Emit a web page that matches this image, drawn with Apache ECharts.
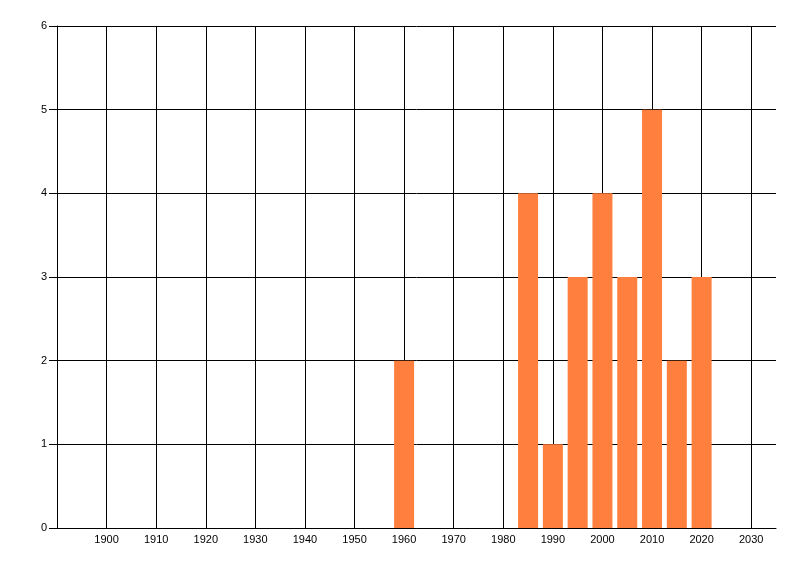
<!DOCTYPE html>
<html>
<head>
<meta charset="utf-8">
<script src="https://cdn.jsdelivr.net/npm/echarts@6/dist/echarts.min.js"></script>
<style>
  html, body { margin: 0; padding: 0; background: #fff; }
  #chart { width: 800px; height: 576px; }
</style>
</head>
<body>
<div id="chart"></div>
<script>
// data
var years = [1960, 1985, 1990, 1995, 2000, 2005, 2010, 2015, 2020]
var counts = [2, 4, 1, 3, 4, 3, 5, 2, 3]

var xMin = 1890
var xMax = 2035
var yMax = 6

var barData = []
for (var i = 0; i < years.length; i++) {
  barData.push([years[i], counts[i]])
}

var myChart = echarts.init(document.getElementById('chart'))

var labelFont = { fontFamily: 'Liberation Sans', fontSize: 11, color: '#000' }

var option = {
  animation: false,
  grid: { left: 57, right: 24, top: 26, bottom: 48, containLabel: false },
  xAxis: {
    type: 'value',
    min: xMin,
    max: xMax,
    interval: 10,
    axisLine: { show: true, lineStyle: { color: '#000', width: 1 } },
    axisTick: { show: false },
    axisLabel: Object.assign({
      margin: 6,
      showMinLabel: false,
      showMaxLabel: false,
      formatter: function(v) { return String(v) }
    }, labelFont),
    splitLine: { show: true, showMinLine: false, showMaxLine: false, lineStyle: { color: '#000', width: 1 } }
  },
  yAxis: {
    type: 'value',
    min: 0,
    max: yMax,
    interval: 1,
    axisLine: { show: true, lineStyle: { color: '#000', width: 1 } },
    axisTick: { show: true, inside: false, length: 8, lineStyle: { color: '#000' } },
    axisLabel: Object.assign({ margin: 10 }, labelFont),
    splitLine: { show: true, lineStyle: { color: '#000', width: 1 } }
  },
  series: [{
    type: 'bar',
    data: barData,
    barWidth: 20,
    itemStyle: { color: '#FF7F3F' }
  }]
}

myChart.setOption(option, true)
window.onresize = () => {
  myChart.resize()
}
</script>
</body>
</html>
